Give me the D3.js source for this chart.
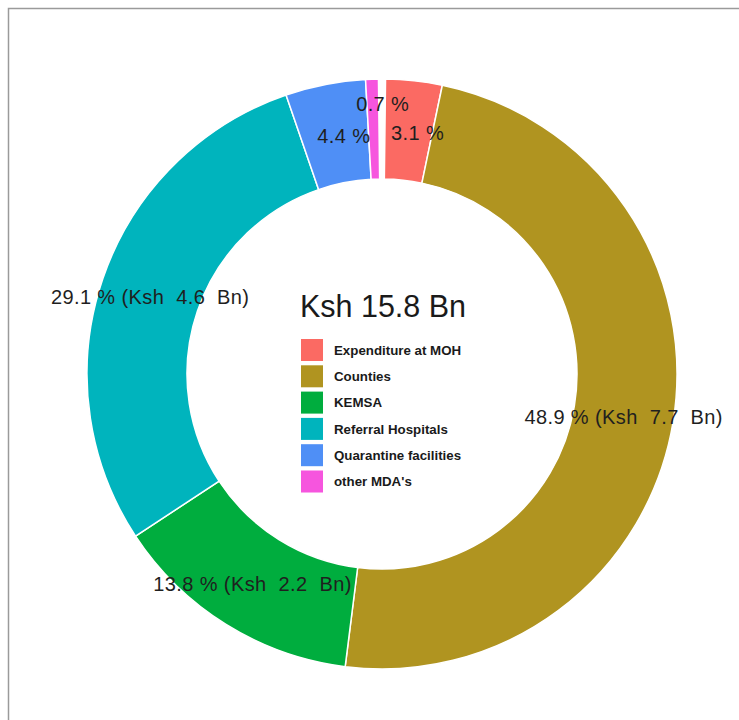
<!DOCTYPE html>
<html>
<head>
<meta charset="utf-8">
<script src="https://cdn.jsdelivr.net/npm/d3@7"></script>
<style>
  body { margin: 0; background: #fff; }
  svg { display: block; font-family: "Liberation Sans", Arial, sans-serif; }
</style>
</head>
<body>
<svg width="739" height="720"></svg>
<script>
const categories = ["Expenditure at MOH", "Counties", "KEMSA", "Referral Hospitals", "Quarantine facilities", "other MDA's"];
const shares = [3.1, 48.9, 13.8, 29.1, 4.4, 0.7];
const amounts = [0.5, 7.7, 2.2, 4.6, 0.7, 0.1];
const colours = ["#fb6a63", "#b09420", "#00ad3e", "#00b4bd", "#4f8ff6", "#f655de"];
const total = "Ksh 15.8 Bn";

const cx = 382, cy = 374;
const outer = 295, inner = 195, labelR = 245;
const gap = 0.024;

const svg = d3.select("svg");

// frame
svg.append("path")
    .attr("d", "M739,8.5 H8.5 V720")
    .attr("fill", "none")
    .attr("stroke", "#9a9a9a")
    .attr("stroke-width", 1.5);

const data = categories.map((c, i) => ({ name: c, share: shares[i], amount: amounts[i] }));

const pie = d3.pie()
    .sort(null)
    .value(d => d.share)
    .startAngle(gap / 2)
    .endAngle(2 * Math.PI - gap / 2);

const arcs = pie(data);
const colour = d3.scaleOrdinal().domain(categories).range(colours);

const arc = d3.arc().innerRadius(inner).outerRadius(outer);
const labelArc = d3.arc().innerRadius(labelR).outerRadius(labelR);

const g = svg.append("g")
    .attr("transform", "translate(" + cx + "," + cy + ")");

g.selectAll("path.slice")
    .data(arcs)
    .enter()
    .append("path")
    .attr("class", "slice")
    .attr("d", arc)
    .attr("fill", d => colour(d.data.name))
    .attr("stroke", "#fff")
    .attr("stroke-width", 1.5);

g.selectAll("text.lab")
    .data(arcs)
    .enter()
    .append("text")
    .attr("class", "lab")
    .attr("x", d => labelArc.centroid(d)[0] + (d.data.share < 5 ? 9 : 0))
    .attr("y", d => labelArc.centroid(d)[1] + (d.data.share < 1 ? -25 : 2))
    .attr("dy", "0.36em")
    .attr("text-anchor", "middle")
    .attr("font-size", 20)
    .attr("letter-spacing", 0.4)
    .attr("fill", "#1f1f1f")
    .style("white-space", "pre")
    .text(d => d.data.share < 5
        ? d.data.share.toFixed(1) + " %"
        : d.data.share.toFixed(1) + " % (Ksh  " + d.data.amount.toFixed(1) + "  Bn)");

// centre title
svg.append("text")
    .attr("x", 383)
    .attr("y", 317)
    .attr("text-anchor", "middle")
    .attr("font-size", 30.5)
    .attr("fill", "#1a1a1a")
    .text(total);

// legend
const legend = svg.append("g")
    .attr("transform", "translate(301,339)");

const rows = legend.selectAll("g")
    .data(categories)
    .enter()
    .append("g")
    .attr("transform", (d, i) => "translate(0," + (i * 26.3) + ")");

rows.append("rect")
    .attr("width", 22)
    .attr("height", 22)
    .attr("fill", d => colour(d));

rows.append("text")
    .attr("x", 33)
    .attr("y", 11)
    .attr("dy", "0.36em")
    .attr("font-size", 13.3)
    .attr("font-weight", "bold")
    .attr("fill", "#1a1a1a")
    .text(d => d);
</script>
</body>
</html>
